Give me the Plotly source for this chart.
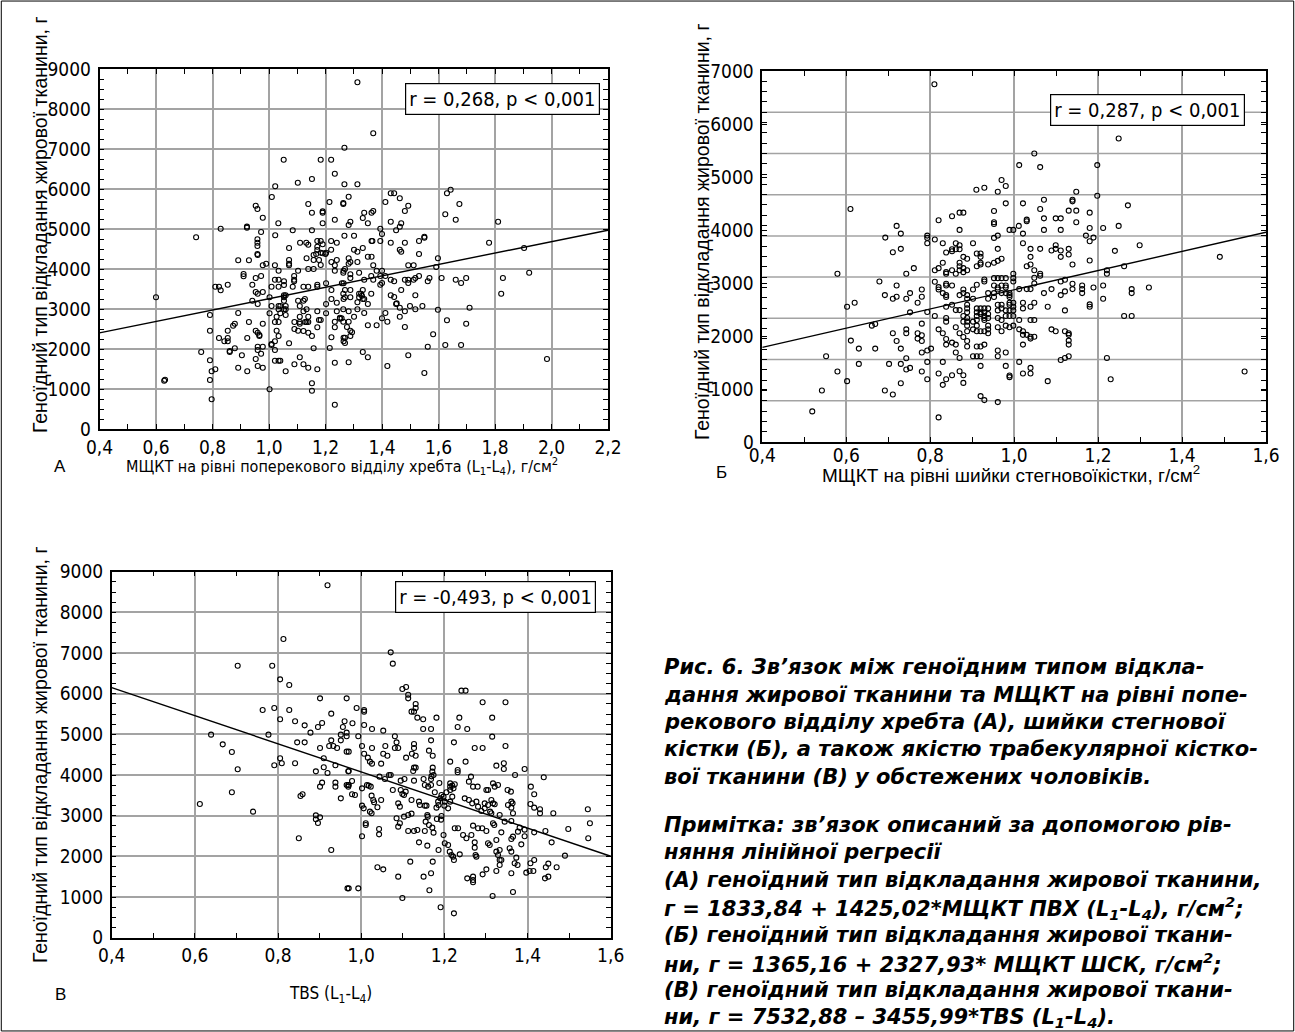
import plotly.graph_objects as go

W, H = 1295, 1032

# ---------------- data ----------------
# Panel A: BMD lumbar spine (L1-L4), g/cm2  vs  gynoid fat mass, g
a_points = [
(0.742,4792),(0.829,5008),(0.922,5033),(0.922,5060),(1.052,6733),(1.022,6067),(1.010,5800),(0.953,5583),
(0.959,5500),(0.978,5283),(0.972,4925),(0.959,4742),(0.959,4658),(0.959,4575),(0.959,4375),(1.022,4842),
(1.033,5142),(1.071,4525),(1.084,4967),(1.102,6158),(1.152,6250),(1.139,5625),(1.152,5408),(1.190,5408),
(1.190,5440),(1.190,5142),(1.152,4967),(1.110,4658),(1.132,4658),(1.139,4608),(1.171,4700),(1.183,4700),
(1.190,4617),(1.171,4558),(1.171,4475),(1.183,4408),(1.202,4408),(1.220,4483),(1.220,4700),(1.240,4658),
(1.183,6733),(1.220,6733),(1.233,6383),(1.214,5675),(1.233,5233),(1.267,7033),(1.267,6117),(1.263,5625),
(1.263,5650),(1.267,4833),(1.167,4375),(1.200,4375),
(1.313,8667),(1.369,7392),(1.313,6117),(1.282,5808),(1.431,5892),(1.443,5892),(1.463,5767),(1.412,5675),
(1.493,5583),(1.481,5450),(1.337,5408),(1.363,5408),(1.369,5450),(1.332,5275),(1.288,5183),(1.282,5100),
(1.350,5142),(1.431,5183),(1.468,5142),(1.463,5058),(1.450,4967),(1.394,5008),(1.400,4875),(1.394,4700),
(1.301,4833),(1.363,4700),(1.366,4700),(1.431,4658),(1.481,4658),(1.531,4700),(1.550,4808),(1.550,4780),
(1.301,4483),(1.313,4433),(1.332,4525),(1.463,4483),(1.468,4433),(1.531,4375),(1.624,5367),(1.630,5892),
(1.643,5983),(1.674,5625),(1.661,5233),(1.811,5183),(1.779,4658),(1.903,4525),
(0.600,3292),(0.629,1208),(0.632,1230),(0.760,1925),(0.791,2850),(0.791,2458),(0.791,1717),(0.797,1442),
(0.810,1492),(0.791,1225),(0.797,742),(0.810,3558),(0.823,3558),(0.829,3467),(0.854,3608),(0.823,2275),
(0.842,2192),(0.854,2275),(0.854,2192),(0.854,2458),(0.861,1925),(0.861,1950),(0.879,2017),(0.873,2583),
(0.879,2633),(0.891,2900),(0.891,4217),(0.929,4217),(0.910,3875),(0.910,3817),(0.904,1842),(0.891,1533),
(0.923,1442),(0.929,2675),(0.923,2275),(0.941,3608),(0.941,3208),(0.953,3775),(0.972,3825),(0.953,3425),
(0.960,3383),(0.978,3425),(0.960,4350),(0.978,4092),(0.990,4133),(0.960,3125),(0.953,2458),(0.960,2408),
(0.966,2325),(0.966,2350),(0.978,2633),(0.960,2058),(0.978,2058),(0.953,1750),(0.960,1975),(0.972,1883),
(0.960,1575),(0.978,1533),(1.002,2892),(1.009,3075),(1.002,3292),(1.009,3558),(1.002,992),(1.009,2100),
(1.009,2125),(1.021,1975),(1.021,1708),(1.034,1708),(1.040,1708),(1.021,2675),(1.027,2458),(1.034,2325),
(1.021,2192),(1.027,2808),(1.034,2675),(1.040,2892),(1.034,3075),(1.034,2992),(1.040,3075),(1.053,2992),
(1.059,2992),(1.059,2850),(1.021,4092),(1.034,3958),(1.021,3733),(1.034,3733),(1.053,3692),(1.034,3558),
(1.053,3342),(1.053,3292),(1.059,3342),(1.053,3208),(1.059,3075),(1.071,4225),(1.071,4133),(1.071,4092),
(1.089,3825),(1.089,3733),(1.089,3692),(1.053,3600),(1.084,3558),(1.103,3958),(1.071,2142),(1.059,1442),
(1.090,2675),(1.090,2500),(1.103,2458),(1.109,2675),(1.109,2633),(1.109,2808),(1.090,1617),(1.109,1792),
(1.103,3208),(1.109,3075),(1.122,3208),(1.127,3250),(1.122,2942),(1.122,3558),(1.139,3558),(1.133,2992),
(1.139,2808),(1.128,2675),(1.133,2675),(1.139,2675),(1.122,2450),(1.139,2408),(1.122,1617),(1.139,1533),
(1.133,4267),(1.158,4350),(1.158,4225),(1.139,4000),(1.158,4000),(1.152,2325),(1.158,2017),(1.152,1142),
(1.152,958),(1.171,3608),(1.171,3558),(1.177,2725),(1.171,2542),(1.183,2725),(1.171,2942),(1.171,1492),
(1.183,4100),(1.177,4225),(1.190,4392),(1.202,3125),(1.202,2892),(1.202,3642),(1.215,2025),(1.233,1658),
(1.233,608),(1.221,3475),(1.221,3250),(1.221,2292),(1.233,2683),(1.233,2542),(1.240,2942),(1.240,3158),
(1.233,4092),(1.233,3958),(1.221,4175),(1.240,4225),(1.251,2758),(1.251,2780),(1.258,3642),(1.264,3642),
(1.264,3250),(1.264,2283),(1.264,2192),(1.264,3958),
(1.269,4000),(1.263,3908),(1.282,4133),(1.282,4267),(1.288,4175),(1.313,4175),(1.350,4308),(1.363,4308),
(1.369,4092),(1.381,3958),(1.400,3958),(1.394,3825),(1.412,3825),(1.400,3650),(1.394,3608),(1.288,3867),
(1.288,3775),(1.319,3908),(1.337,3733),(1.362,3825),(1.369,3733),(1.269,3475),(1.288,3475),(1.269,3292),
(1.288,3292),(1.263,3383),(1.319,3383),(1.326,3383),(1.332,3475),(1.319,3292),(1.332,3250),(1.337,3250),
(1.329,3330),(1.362,3383),(1.350,3125),(1.313,3167),(1.313,2992),(1.337,2900),(1.282,2942),(1.263,2992),
(1.257,2767),(1.263,2683),(1.282,2683),(1.301,2808),(1.276,2550),(1.288,2458),(1.294,2417),(1.288,2325),
(1.269,2283),(1.269,2150),(1.282,1667),(1.332,1925),(1.350,1792),(1.350,2592),(1.381,2592),(1.400,2767),
(1.419,2683),(1.412,2900),(1.419,1575),(1.431,3342),(1.443,3300),(1.450,3125),(1.452,3140),(1.463,3033),
(1.463,2808),(1.481,2942),(1.468,3475),(1.493,4092),(1.512,4092),(1.431,3733),(1.443,3692),(1.481,3733),
(1.493,3733),(1.493,3650),(1.512,3733),(1.518,3775),(1.531,3825),(1.499,3075),(1.518,3342),(1.518,2992),
(1.543,3075),(1.481,2550),(1.493,1842),(1.550,1400),(1.562,3692),(1.568,3775),(1.598,4267),(1.592,4050),
(1.611,3775),(1.598,2983),(1.630,2717),(1.581,2367),(1.562,2058),(1.624,2100),(1.680,2100),(1.698,2633),
(1.710,3033),(1.661,3733),(1.680,3650),(1.698,3775),(1.822,3383),(1.828,3775),(1.921,3908),(1.984,1750),
]

# Panel B: BMD femoral neck, g/cm2  vs  gynoid fat mass, g
b_points = [
(0.810,8677),(0.610,5653),(0.910,6120),(0.929,6168),(0.970,6354),(0.980,6209),(0.961,6072),(0.980,5789),
(0.952,5604),(0.952,5330),(0.952,5290),(0.961,5007),(0.952,4951),(0.961,4685),(0.989,5145),(0.998,5145),
(0.852,5475),(0.870,5564),(0.879,5564),(0.820,5378),(0.870,5145),(0.720,5242),(0.730,5056),(0.693,4959),
(0.730,4685),(0.711,4604),(0.793,5007),(0.793,4951),(0.793,4822),(0.811,4911),(0.830,4822),(0.861,4822),
(0.870,4773),(0.902,4822),(0.852,4677),(0.852,4629),(0.861,4677),(0.870,4677),(0.838,4597),(0.911,4572),
(0.920,4572),
(1.249,7361),(1.048,6998),(1.012,6717),(1.062,6669),(1.198,6717),(1.198,5975),(1.148,6072),(1.139,5878),
(1.139,5838),(1.071,5878),(1.021,5789),(1.062,5653),(1.130,5612),(1.148,5612),(1.180,5564),(1.271,5741),
(1.030,5394),(1.030,5354),(1.071,5426),(1.099,5426),(1.111,5426),(1.148,5330),(1.011,5242),(1.021,5056),
(1.071,5145),(1.111,5145),(1.180,5193),(1.212,5193),(1.249,5242),(1.171,5007),(1.189,4959),(1.180,4870),
(1.021,4822),(1.039,4685),(1.062,4685),(1.089,4645),(1.099,4773),(1.099,4685),(1.111,4645),(1.130,4685),
(1.240,4637),(1.299,4773),
(0.519,742),(0.542,1250),(0.552,2080),(0.579,1710),(0.579,4080),(0.602,3282),(0.602,1476),(0.620,3379),
(0.611,2460),(0.630,2266),(0.630,1895),(0.661,2823),(0.669,2862),(0.669,2266),(0.679,3895),(0.692,3564),
(0.711,3476),(0.720,3524),(0.720,3798),(0.711,2637),(0.720,2451),(0.730,2266),(0.702,1895),(0.730,1895),
(0.730,1427),(0.692,1250),(0.711,1153),(0.743,4080),(0.761,4217),(0.743,3476),(0.752,3612),(0.752,3145),
(0.743,2733),(0.743,2637),(0.743,2032),(0.743,1758),(0.752,1798),(0.770,3379),(0.780,3524),(0.780,3701),
(0.770,2637),(0.770,2508),(0.780,2588),(0.780,2451),(0.780,2871),(0.780,2170),(0.780,1710),(0.793,3152),
(0.793,2218),(0.802,2266),(0.793,1943),(0.793,1524),(0.811,3887),(0.820,3701),(0.820,3757),(0.811,3055),
(0.820,2733),(0.830,2637),(0.830,1943),(0.820,1661),(0.830,1386),(0.820,597),(0.811,4168),(0.820,4217),
(0.830,4347),(0.838,4120),(0.838,4080),(0.852,4168),(0.861,4080),(0.838,3838),(0.838,3798),(0.852,3798),
(0.838,3564),(0.838,3516),(0.830,3612),(0.838,3282),(0.852,3331),(0.838,3007),(0.838,2919),(0.838,2499),
(0.838,2363),(0.852,2411),(0.861,2363),(0.861,2170),(0.870,2039),(0.852,1621),(0.838,1524),(0.870,1717),
(0.879,1621),(0.879,1434),(0.861,3200),(0.870,3200),(0.879,3055),(0.861,2782),(0.870,2637),(0.879,2547),
(0.888,2451),(0.888,2315),(0.870,3564),(0.879,3612),(0.879,3701),(0.870,4265),(0.870,4168),(0.879,4217),
(0.879,4120),(0.888,4168),(0.870,4347),(0.879,4492),(0.888,4444),(0.888,3564),(0.888,3476),(0.888,3331),
(0.888,3241),(0.888,3145),(0.888,3007),(0.888,2919),(0.888,2823),(0.888,2685),(0.879,2919),(0.902,3701),
(0.902,3476),(0.911,3814),(0.911,3241),(0.911,3145),(0.911,3055),(0.911,2959),(0.902,2919),(0.911,2823),
(0.902,2733),(0.911,2685),(0.902,2080),(0.911,2080),(0.920,2080),(0.911,2315),(0.920,2315),(0.929,2363),
(0.920,1846),(0.920,1113),(0.929,1016),(0.920,3241),(0.920,3145),(0.920,3104),(0.929,3241),(0.929,3145),
(0.929,3055),(0.929,3007),(0.938,3241),(0.938,3104),(0.938,3007),(0.929,2959),(0.920,2685),(0.938,2823),
(0.938,2733),(0.938,2637),(0.929,2685),(0.929,3943),(0.929,3895),(0.938,3612),(0.938,3476),(0.920,4492),
(0.920,4347),(0.920,4306),(0.911,4265),(0.938,4306),(0.952,4347),(0.961,4395),(0.970,4444),(0.952,3975),
(0.961,3975),(0.970,3975),(0.980,3975),(0.952,3798),(0.961,3749),(0.970,3798),(0.980,3798),(0.980,3749),
(0.961,3701),(0.952,3612),(0.952,3516),(0.970,3612),(0.980,3612),(0.989,3612),(0.989,3564),(0.989,3516),
(0.961,3331),(0.961,3193),(0.970,3241),(0.970,3331),(0.980,3193),(0.989,3379),(0.989,3331),(0.989,3193),
(0.961,3007),(0.970,2959),(0.980,3055),(0.989,3055),(0.998,3055),(0.961,2782),(0.970,2685),(0.980,2823),
(0.989,2782),(0.998,2823),(0.961,2218),(0.961,2080),(0.980,2170),(0.980,1846),(0.989,1613),(0.989,1573),
(0.961,968),(0.998,4080),(0.998,3975),
(1.490,4492),(1.549,1710),(1.262,4265),(1.221,4168),(1.221,4080),(1.180,4403),(1.139,4306),(1.130,4548),
(1.111,4492),(1.030,4265),(1.039,4306),(1.048,4168),(1.048,3983),(1.048,3846),(1.062,4080),(1.062,4032),
(1.039,4492),(0.998,3895),(1.012,3709),(1.030,3709),(1.039,3709),(1.071,3612),(1.089,3709),(1.121,3935),
(1.111,3895),(1.121,3653),(1.111,3564),(1.139,3838),(1.139,3709),(1.162,3798),(1.162,3709),(1.162,3612),
(1.189,3749),(1.212,3798),(1.212,3476),(0.998,3379),(0.998,3282),(0.998,3193),(1.021,3379),(1.021,3241),
(1.039,3282),(1.048,3379),(1.080,3282),(1.121,3193),(1.180,3338),(1.180,3282),(1.262,3055),(1.280,3055),
(1.280,3709),(1.280,3612),(1.321,3749),(1.012,2959),(1.039,2959),(1.048,2959),(1.012,2733),(1.021,2685),
(1.021,2599),(1.030,2599),(1.039,2552),(1.048,2552),(1.039,2508),(1.021,2363),(1.089,2733),(1.099,2685),
(1.121,2685),(1.130,2637),(1.130,2599),(1.130,2460),(1.130,2363),(1.111,1991),(1.121,2039),(1.130,2080),
(1.012,1943),(1.021,1661),(1.039,1798),(1.039,1661),(1.080,1476),(1.221,2039),(1.230,1524),
]

# Panel C: TBS (L1-L4)  vs  gynoid fat mass, g
c_points = [
(0.919,8665),(0.813,7345),(0.703,6689),(0.786,6689),(0.805,6353),(0.827,6214),(0.901,5886),(0.965,5886),
(0.763,5599),(0.791,5648),(0.827,5599),(0.805,5370),(0.841,5321),(0.864,5222),(0.878,5042),(0.896,5181),
(0.906,5280),(0.928,5509),(0.960,5321),(0.956,5181),(0.965,5042),(0.951,4993),(0.951,4853),(0.846,4804),
(0.864,4804),(0.901,4665),(0.923,4714),(0.933,4714),(0.942,4665),(0.928,4853),(0.965,4575),(0.639,4993),
(0.777,4993),(0.667,4755),(0.689,4567),(0.805,4411),(0.910,4411),
(1.071,7017),(1.076,6739),(1.099,6116),(1.108,6165),(1.113,5976),(1.113,5886),(1.131,5747),(1.131,5648),
(1.127,5558),(1.121,5558),(1.135,5411),(1.149,5370),(1.181,5411),(1.149,5132),(1.168,5132),(1.168,4853),
(1.007,5599),(1.007,5558),(0.989,5648),(0.979,5272),(1.007,5230),(1.026,5132),(1.053,5091),(0.965,4952),
(0.993,4952),(0.970,4575),(1.002,4714),(1.026,4665),(1.007,4525),(1.058,4714),(1.081,4952),(1.085,4804),
(1.081,4665),(1.089,4665),(1.053,4525),(1.063,4476),(1.127,4763),(1.127,4665),(1.122,4525),(1.108,4427),
(1.131,4476),(1.163,4599),(1.172,4476),(1.223,4804),(1.232,5181),(1.255,5132),(1.236,5411),(1.251,6075),
(1.241,6075),(1.315,5411),(1.315,4944),(1.347,4714),(1.273,4665),(1.292,4665),(1.292,5788),(1.347,5788),
(0.612,3288),(0.703,4141),(0.689,3575),(0.740,3100),(0.791,4239),(0.809,4288),(0.841,4288),(0.850,2444),
(0.854,3485),(0.859,3526),(0.891,4091),(0.910,4190),(0.919,4050),(0.938,4239),(0.901,3714),(0.906,3813),
(0.938,3813),(0.938,3714),(0.965,3755),(0.969,3755),(0.969,4091),(0.951,3427),(0.891,3009),(0.891,2911),
(0.901,2960),(0.896,2821),(0.928,2157),(0.967,1214),
(0.970,4100),(0.978,3854),(0.970,3755),(0.969,3714),(1.002,3673),(1.014,3755),(1.018,3739),(1.023,3714),
(0.978,3526),(0.985,3509),(1.002,3247),(1.006,3181),(1.021,3100),(1.025,3059),(1.029,3386),(1.025,3493),
(1.031,3329),(1.039,3206),(1.048,3386),(1.002,2493),(1.011,2813),(1.011,2772),(1.043,2673),(1.043,2542),
(1.039,1731),(1.053,1681),(0.970,1214),(0.993,1214),(1.016,4427),(1.021,4329),(1.026,4280),(1.048,4280),
(1.044,3960),(1.067,4001),(1.057,3903),(1.071,4001),(1.089,3304),(1.093,3222),(1.085,2936),(1.089,2731),
(1.093,2813),(1.103,2977),(1.113,3018),(1.121,3050),(1.113,2624),(1.127,2624),(1.135,2649),(1.141,3264),
(1.139,3345),(1.153,3247),(1.157,3247),(1.160,2977),(1.159,3018),(1.155,2854),(1.153,2624),(1.163,2772),
(1.171,2706),(1.174,2583),(1.181,3198),(1.186,3264),(1.182,2919),(1.192,2903),(1.193,2993),(1.076,3632),
(1.095,3632),(1.099,3534),(1.103,3509),(1.107,3591),(1.121,3386),(1.095,3862),(1.104,3903),(1.127,3862),
(1.125,4100),(1.127,4182),(1.131,4182),(1.150,3903),(1.153,3755),(1.161,3714),(1.168,3755),(1.169,3968),
(1.171,4083),(1.172,4182),(1.174,4001),(1.168,3903),(1.177,3575),(1.188,3804),(1.193,3509),(1.185,3345),
(1.139,2345),(1.159,2263),(1.186,2157),(1.198,2526),(1.201,2321),(1.209,2280),(1.213,2116),(1.217,2034),
(1.221,1993),(1.223,1911),(1.225,2690),(1.233,2690),(1.237,2050),(1.245,2526),(1.253,2444),(1.265,2526),
(1.269,2755),(1.273,2345),(1.273,2214),(1.275,2034),(1.277,1993),(1.281,2690),(1.291,2690),(1.301,2624),
(1.305,2321),(1.309,2280),(1.317,2813),(1.320,2772),(1.325,2403),(1.333,2157),(1.337,2591),(1.325,2116),
(1.329,2034),(1.333,1911),(1.337,1911),(1.333,1788),(1.325,1640),(1.357,2198),(1.361,2116),(1.361,2427),
(1.365,2485),(1.373,1968),(1.377,2608),(1.381,2706),(1.385,2296),(1.393,2493),(1.369,1829),(1.376,1788),
(1.361,1583),(1.089,1501),(1.118,1870),(1.150,1501),(1.164,1165),(1.168,1583),(1.172,1870),(1.099,976),
(1.191,747),(1.223,599),(1.255,1460),(1.269,1501),(1.269,1419),(1.269,1362),(1.292,1558),(1.301,1681),
(1.316,1026),(1.365,1124),(1.397,1599),(1.405,1640),(1.414,1640),(1.407,1829),(1.416,1911),(1.442,1460),
(1.450,1501),(1.444,1731),(1.450,1821),(1.470,1731),(1.490,2018),(1.458,2345),(1.443,2624),(1.416,2591),
(1.393,2657),(1.190,3427),(1.198,3468),(1.205,3575),(1.214,3796),(1.214,3714),(1.219,3739),(1.225,3772),
(1.222,3673),(1.214,3632),(1.219,3468),(1.214,3345),(1.201,3345),(1.200,3247),(1.209,3181),(1.232,4124),
(1.232,4067),(1.214,4329),(1.251,4329),(1.264,3960),(1.259,3837),(1.269,3714),(1.280,3714),(1.249,3427),
(1.259,3386),(1.267,3304),(1.277,3345),(1.281,3222),(1.289,3116),(1.297,3181),(1.301,3632),(1.305,3632),
(1.321,3714),(1.329,3755),(1.317,3796),(1.313,3386),(1.317,3304),(1.321,3280),(1.305,3264),(1.297,3304),
(1.310,3100),(1.313,3059),(1.333,3018),(1.325,4231),(1.343,4288),(1.343,4149),(1.370,4001),(1.393,4149),
(1.352,3632),(1.360,3591),(1.361,3345),(1.361,3198),(1.365,3059),(1.345,2854),(1.361,2870),(1.353,3264),
(1.364,3304),(1.408,3714),(1.416,3526),(1.407,3288),(1.416,3198),(1.430,3157),(1.430,3059),(1.462,3059),
(1.439,3944),(1.545,3157),(1.550,2813),(1.546,2444),(1.498,2673),
]

# regression lines: intercept, slope
reg_a = (1833.84, 1425.02)
reg_b = (1365.16, 2327.93)
reg_c = (7532.88, -3455.99)

corr_labels = ["r = 0,268, p < 0,001", "r = 0,287, p < 0,001", "r = -0,493, p < 0,001"]

a_xticks = [0.4, 0.6, 0.8, 1.0, 1.2, 1.4, 1.6, 1.8, 2.0, 2.2]
bc_xticks = [0.4, 0.6, 0.8, 1.0, 1.2, 1.4, 1.6]
ac_yticks = [0, 1000, 2000, 3000, 4000, 5000, 6000, 7000, 8000, 9000]
b_ylabels = [0, 1000, 2000, 3000, 4000, 5000, 6000, 7000]
b_ygrid = [1000, 2000, 3000, 4000, 5000, 6000, 7000, 8000]

y_title = "Геноїдний тип відкладання жирової тканини, г"
a_xtitle = "МЩКТ на рівні поперекового відділу хребта (L<sub>1</sub>-L<sub>4</sub>), г/см<sup>2</sup>"
b_xtitle = "МЩКТ на рівні шийки стегновоїкістки, г/см<sup>2</sup>"
c_xtitle = "TBS (L<sub>1</sub>-L<sub>4</sub>)"

caption_lines = [
    "Рис. 6. Зв’язок між геноїдним типом відкла-",
    "дання жирової тканини та МЩКТ на рівні попе-",
    "рекового відділу хребта (А), шийки стегнової",
    "кістки (Б), а також якістю трабекулярної кістко-",
    "вої тканини (В) у обстежених чоловіків.",
    "Примітка: зв’язок описаний за допомогою рів-",
    "няння лінійної регресії",
    "(А) геноїдний тип відкладання жирової тканини,",
    "г = 1833,84 + 1425,02*МЩКТ ПВХ (L<sub>1</sub>-L<sub>4</sub>), г/см<sup>2</sup>;",
    "(Б) геноїдний тип відкладання жирової ткани-",
    "ни, г = 1365,16 + 2327,93* МЩКТ ШСК, г/см<sup>2</sup>;",
    "(В) геноїдний тип відкладання жирової ткани-",
    "ни, г = 7532,88 – 3455,99*TBS (L<sub>1</sub>-L<sub>4</sub>).",
]
caption_y = [667, 695, 722, 749, 777, 825, 852, 880, 908, 935, 963, 990, 1018]

# ---------------- figure ----------------
NARROW = "DejaVu Sans Condensed, Liberation Sans Narrow, Arial Narrow, sans-serif"
REG = "Liberation Sans, Arial, sans-serif"


def fmt(v):
    return f"{v:.1f}".replace(".", ",")


def dx(p0, p1):
    return [p0 / W, p1 / W]


def dy(pb, pt):
    return [1 - pb / H, 1 - pt / H]


fig = go.Figure()

panels = [
    (a_points, reg_a, "x", "y", [0.4, 2.2]),
    (b_points, reg_b, "x2", "y2", [0.4, 1.6]),
    (c_points, reg_c, "x3", "y3", [0.4, 1.6]),
]
for pts, reg, xa, ya, xr in panels:
    fig.add_trace(go.Scatter(
        x=[p[0] for p in pts], y=[p[1] for p in pts], mode="markers",
        marker=dict(symbol="circle-open", size=5, color="black", line=dict(width=1.1, color="black")),
        xaxis=xa, yaxis=ya, showlegend=False, hoverinfo="skip"))
    fig.add_trace(go.Scatter(
        x=xr, y=[reg[0] + reg[1] * v for v in xr], mode="lines",
        line=dict(color="black", width=1.4), xaxis=xa, yaxis=ya,
        showlegend=False, hoverinfo="skip"))

axis_common = dict(
    showline=True, linecolor="black", linewidth=1.5, mirror="allticks",
    ticks="inside", ticklen=5, tickwidth=1, tickcolor="black",
    showgrid=True, gridcolor="#a3a3a3", gridwidth=1.5, zeroline=False,
    automargin=False,
    tickfont=dict(family=NARROW, size=19, color="black"),
)


def xaxis(domain, ticks, anchor, standoff=0):
    d = dict(axis_common)
    d.update(domain=domain, range=[ticks[0], ticks[-1]], anchor=anchor,
             tickmode="array", tickvals=ticks, ticktext=[fmt(v) for v in ticks],
             ticklabelstandoff=standoff,
             minor=dict(dtick=0.1, tick0=0.4, ticks="inside", ticklen=5,
                        tickcolor="black", showgrid=False))
    return d


def yaxis(domain, anchor, tickvals, ticktext, grid=True):
    d = dict(axis_common)
    d.update(domain=domain, range=[0, 9000], anchor=anchor,
             tickmode="array", tickvals=tickvals, ticktext=ticktext,
             showgrid=grid, ticklabelstandoff=3,
             minor=dict(dtick=250, tick0=0, ticks="inside", ticklen=5,
                        tickcolor="black", showgrid=False))
    return d


b_yvals = [k * 9000 / 7 for k in range(len(b_ylabels))]

fig.update_layout(
    width=W, height=H, margin=dict(l=0, r=0, t=0, b=0, pad=0), autosize=False,
    paper_bgcolor="white", plot_bgcolor="white",
    xaxis=xaxis(dx(99.5, 608), a_xticks, "y"),
    yaxis=yaxis(dy(429, 69), "x", ac_yticks, [str(v) for v in ac_yticks]),
    xaxis2=xaxis(dx(762.3, 1266), bc_xticks, "y2", standoff=-5),
    yaxis2=yaxis(dy(442, 71), "x2", b_yvals, [str(v) for v in b_ylabels], grid=False),
    xaxis3=xaxis(dx(111.7, 610.7), bc_xticks, "y3"),
    yaxis3=yaxis(dy(937.7, 571.7), "x3", ac_yticks, [str(v) for v in ac_yticks]),
)

shapes = []
for v in b_ygrid:
    shapes.append(dict(type="line", xref="x2 domain", yref="y2", x0=0, x1=1, y0=v, y1=v,
                       line=dict(color="#a3a3a3", width=1.5), layer="below"))
shapes.append(dict(type="rect", xref="paper", yref="paper", x0=0.001, x1=0.999, y0=0.001, y1=0.999,
                   line=dict(color="black", width=1)))
fig.update_layout(shapes=shapes)

ann = []


def px_ann(text, x, y, **kw):
    d = dict(text=text, x=x / W, y=1 - y / H, xref="paper", yref="paper", showarrow=False)
    d.update(kw)
    ann.append(d)


# correlation boxes
box_kw = dict(font=dict(family=NARROW, size=20, color="black"), bgcolor="white",
              bordercolor="black", borderwidth=1.2, borderpad=3, xanchor="right", yanchor="middle")
px_ann(corr_labels[0], 600, 98.5, **box_kw)
px_ann(corr_labels[1], 1245, 110, **box_kw)
px_ann(corr_labels[2], 596, 596.5, **box_kw)

# axis titles
yt_font = dict(family=REG, size=19.5, color="black")
px_ann(y_title, 40, 225, textangle=-90, font=yt_font, xanchor="center", yanchor="middle")
px_ann(y_title, 702, 232, textangle=-90, font=yt_font, xanchor="center", yanchor="middle")
px_ann(y_title, 40, 755, textangle=-90, font=yt_font, xanchor="center", yanchor="middle")

px_ann(a_xtitle, 342, 466, font=dict(family=NARROW, size=16, color="black"),
       xanchor="center", yanchor="middle")
px_ann(b_xtitle, 1011, 474, font=dict(family=REG, size=19, color="black"),
       xanchor="center", yanchor="middle")
px_ann(c_xtitle, 330, 994, font=dict(family=NARROW, size=17, color="black"),
       xanchor="center", yanchor="middle")

lt_font = dict(family=REG, size=17, color="black")
px_ann("А", 60, 466, font=lt_font, xanchor="center", yanchor="middle")
px_ann("Б", 721, 473, font=lt_font, xanchor="center", yanchor="middle")
px_ann("В", 60, 994, font=lt_font, xanchor="center", yanchor="middle")

cap_font = dict(family="DejaVu Sans, Liberation Sans, sans-serif", size=21, color="black")
for line, yy in zip(caption_lines, caption_y):
    px_ann("<b><i>" + line + "</i></b>", 662, yy, font=cap_font, xanchor="left", yanchor="middle")

fig.update_layout(annotations=ann)

fig.write_html("out.html")
